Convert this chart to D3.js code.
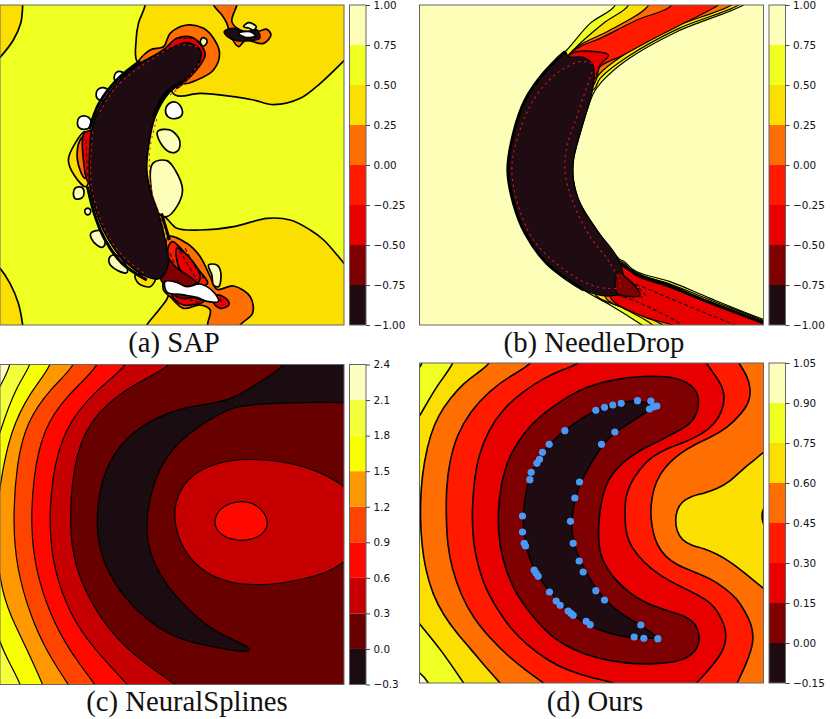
<!DOCTYPE html>
<html>
<head>
<meta charset="utf-8">
<script src="https://cdn.jsdelivr.net/npm/d3@7/dist/d3.min.js"></script>
<style>
  html, body { margin: 0; padding: 0; background: #fff; }
  svg { display: block; }
  .cbar text { font-family: "DejaVu Sans", sans-serif; font-size: 10.4px; fill: #111; }
  .caption { font-family: "Liberation Serif", serif; font-size: 28.7px; fill: #111; text-anchor: middle; }
</style>
</head>
<body>
<svg id="chart" width="830" height="719"></svg>
<script>
// colour bands, bottom to top of each colour bar
var sapTicks = [-1, -0.75, -0.5, -0.25, 0, 0.25, 0.5, 0.75, 1]
var sapColors = ['#1e0c12', '#7f0000', '#e80000', '#ff1a00', '#ff6e00', '#fbdf00', '#f0ff22', '#fdfeb8']
var needleTicks = sapTicks
var needleColors = sapColors
var splineTicks = [-0.3, 0, 0.3, 0.6, 0.9, 1.2, 1.5, 1.8, 2.1, 2.4]
var splineColors = ['#1a0c10', '#680000', '#c60000', '#ff0800', '#ff4400', '#ff9800', '#f8ff00', '#f4ff3c', '#fdffc0']
var oursTicks = [-0.15, 0, 0.15, 0.3, 0.45, 0.6, 0.75, 0.9, 1.05]
var oursColors = ['#1e0c12', '#7f0000', '#e80000', '#ff1a00', '#ff6e00', '#fbdf00', '#f0ff22', '#fdfeb8']

// contour rings: [band value, ring of [x, y]] painted in order
var sapContours = [
  [0.3, [[-40,-40],[68,-40],[68,15],[62,70],[40,120],[0,172],[-40,210]]],
  [0.3, [[-40,770],[0,805],[30,850],[55,910],[68,975],[72,1020],[-40,1020]]],
  [0.3, [[435,-30],[435,15],[415,70],[408,120],[412,185],[470,190],[525,285],[600,280],[700,290],[760,300],[820,314],[900,295],[960,250],[1031,182],[1080,130],[1080,-30]]],
  [0.3, [[490,650],[530,685],[600,690],[700,680],[800,655],[870,660],[930,690],[970,720],[1031,790],[1080,850],[1080,1020],[420,1020],[440,975],[480,925],[505,885],[490,800]]],
  [0.3, [[255,395],[225,430],[205,480],[222,525],[258,560],[270,480]]],
  [0.3, [[405,825],[415,850],[450,860],[465,835]]],
  [0.1, [[240,420],[232,480],[255,535],[275,480],[268,400]]],
  [0.1, [[415,190],[450,150],[490,140],[510,100],[560,75],[610,85],[640,115],[658,160],[640,210],[590,240],[550,250],[520,210]]],
  [0.1, [[635,-20],[640,15],[665,45],[680,70],[690,105],[715,140],[735,122],[790,130],[812,105],[800,88],[770,95],[720,90],[695,65],[710,15],[715,-20]]],
  [0.1, [[505,710],[560,730],[600,770],[630,830],[650,868],[700,858],[750,890],[757,940],[720,975],[700,1020],[630,1020],[622,975],[630,930],[600,915],[550,925],[510,890],[490,870],[490,830]]],
  [-0.4, [[252,400],[280,395],[275,540],[264,545],[250,480]]],
  [-0.4, [[430,190],[495,145],[530,115],[575,112],[606,140],[615,165],[600,195],[565,235],[530,265],[560,190],[530,150]]],
  [-0.1, [[515,725],[560,765],[600,815],[622,850],[560,860],[500,820]]],
  [-0.4, [[530,745],[570,775],[600,830],[590,850],[540,810]]],
  [-0.6, [[498,770],[525,800],[590,850],[540,860],[485,845]]],
  [-0.4, [[515,880],[560,888],[610,905],[590,912],[550,915],[525,900]]],
  [-0.6, [[520,875],[560,878],[590,888],[560,895],[530,890]]],
  [-0.4, [[650,885],[680,898],[686,915],[660,925],[640,908]]],
  [0.9, [[472,395],[510,390],[538,420],[535,450],[515,458],[485,435]]],
  [0.9, [[458,490],[500,482],[525,510],[547,570],[530,620],[500,650],[475,640],[455,580]]],
  [0.9, [[272,700],[300,692],[315,730],[305,742],[280,725]]],
  [0.9, [[330,770],[350,765],[380,800],[380,818],[350,810],[328,790]]],
  [0.9, [[625,795],[650,795],[662,820],[655,860],[640,855],[635,825]]],
  [0.9, [[220,578],[226,564],[245,562],[252,578],[245,594],[226,596]]],
  [0.9, [[254,634],[258,626],[268,626],[272,634],[268,643],[258,643]]],
  [0.9, [[600,125],[608,113],[620,120],[618,132],[608,138]]],
  [1.5, [[232,368],[238,352],[256,348],[272,360],[270,380],[252,388],[236,382]]],
  [1.5, [[288,282],[294,268],[310,263],[326,274],[324,292],[308,302],[292,296]]],
  [1.5, [[342,232],[348,218],[362,215],[375,226],[372,242],[358,250],[346,244]]],
  [1.5, [[496,330],[505,312],[525,306],[543,322],[545,345],[525,356],[503,350]]],
  [-0.9, [[672,95],[700,85],[730,97],[770,90],[778,115],[740,122],[710,122],[680,108]]],
  [1.5, [[715,100],[750,95],[765,108],[735,112]]],
  [0.9, [[730,80],[745,68],[768,80],[760,90],[745,84]]],
  [1.5, [[495,844],[530,847],[560,860],[600,852],[640,876],[655,904],[620,904],[590,892],[545,884],[500,876]]],
  [-0.9, [[600,150],[560,128],[500,150],[420,190],[350,250],[300,320],[275,390],[268,470],[270,560],[290,640],[320,710],[370,780],[440,830],[480,835],[505,790],[495,720],[475,640],[450,570],[440,510],[445,440],[465,350],[505,280],[560,235],[600,180]]]
]
var needleContours = [
  [0.6, [[605,-30],[615,15],[540,70],[470,150],[400,220],[345,300],[310,400],[293,510],[310,610],[345,700],[410,790],[520,870],[600,915],[700,978],[760,1020],[1100,1020],[1100,970],[1060,958],[900,895],[780,845],[680,815],[620,770],[560,690],[510,610],[490,540],[490,480],[510,400],[550,280],[575,245],[650,180],[800,95],[1000,15],[1060,-30]]],
  [0.3, [[655,-30],[655,15],[580,70],[490,150],[470,175],[548,270],[570,235],[650,172],[800,88],[985,15],[1040,-30]]],
  [0.1, [[715,-30],[715,15],[600,90],[510,135],[480,165],[548,255],[565,225],[640,165],[790,82],[965,15],[1020,-30]]],
  [-0.1, [[785,-30],[785,15],[680,60],[570,115],[510,140],[480,165],[548,240],[570,200],[640,165],[700,132],[800,80],[925,15],[980,-30]]],
  [0.3, [[555,880],[640,925],[730,978],[750,1020],[1100,1020],[1100,985],[1060,963],[900,900],[780,852],[680,820],[630,780]]],
  [0.1, [[585,890],[670,935],[760,978],[780,1020],[1100,1020],[1100,990],[1060,968],[900,905],[780,858],[680,825],[630,785]]],
  [-0.4, [[600,890],[700,950],[790,978],[830,1020],[1100,1020],[1100,995],[1060,972],[900,910],[780,862],[680,828],[630,790]]],
  [-0.4, [[475,170],[500,155],[595,165],[570,195],[555,235],[520,200]]],
  [-0.9, [[465,155],[400,220],[345,300],[310,400],[293,510],[310,610],[345,700],[410,790],[520,870],[600,888],[640,875],[640,825],[620,770],[560,690],[510,610],[490,540],[490,480],[510,400],[545,280],[552,235],[548,195],[520,172],[475,170]]],
  [-0.6, [[625,815],[640,825],[690,885],[620,880]]]
]
var splineContours = [
  [1.9, [[35,-40],[35,28],[0,95],[-40,160],[-40,1040],[1100,1040],[1100,-40]]],
  [1.6, [[97,-40],[97,28],[50,90],[0,225],[-50,400],[-50,700],[0,870],[30,925],[62,988],[80,1040],[1100,1040],[1100,-40]]],
  [1.3, [[160,-40],[160,28],[90,110],[30,230],[0,385],[-15,520],[0,690],[30,780],[80,880],[128,988],[150,1040],[1100,1040],[1100,-40]]],
  [1.0, [[232,-40],[232,28],[150,100],[80,200],[50,320],[38,500],[50,640],[90,780],[140,890],[205,988],[235,1040],[1100,1040],[1100,-40]]],
  [0.7, [[305,-40],[305,28],[200,120],[130,220],[100,360],[92,510],[105,640],[150,780],[210,890],[285,988],[320,1040],[1100,1040],[1100,-40]]],
  [0.4, [[392,-40],[392,28],[290,100],[190,220],[155,370],[147,510],[160,640],[210,780],[280,880],[382,988],[430,1040],[1100,1040],[1100,-40]]],
  [0.1, [[530,-40],[530,28],[400,85],[290,170],[225,280],[205,510],[225,640],[280,760],[370,880],[525,988],[600,1040],[1100,1040],[1100,-40]]],
  [-0.1, [[860,-10],[860,28],[780,80],[705,128],[640,145],[560,155],[480,180],[380,240],[310,340],[283,500],[305,620],[370,730],[470,820],[560,860],[640,875],[720,890],[750,888],[750,878],[690,850],[630,820],[560,760],[490,680],[445,590],[437,500],[455,390],[510,280],[600,210],[660,175],[710,152],[800,145],[950,140],[1031,143],[1100,145],[1100,-10]]],
  [0.4, [[1031,390],[950,345],[850,318],[750,310],[650,320],[570,360],[530,420],[520,480],[535,560],[590,640],[680,685],[790,692],[900,675],[990,650],[1031,620],[1100,570],[1100,450]]],
  [0.7, [[640,495],[660,455],[715,435],[770,445],[805,490],[800,530],[750,558],[690,555],[650,530]]]
]
var oursContours = [
  [0.8, [[38,-20],[38,24],[28,40],[-20,80],[-20,920],[28,950],[58,984],[80,1040],[1150,1040],[1150,-20]]],
  [0.7, [[135,-20],[135,24],[80,90],[28,185],[-30,280],[-30,730],[28,808],[90,880],[160,984],[200,1040],[1150,1040],[1150,-20]]],
  [0.5, [[245,-20],[245,24],[200,55],[160,85],[120,130],[85,180],[60,240],[42,320],[32,400],[30,490],[35,570],[45,640],[68,720],[100,780],[140,835],[180,880],[225,935],[270,984],[320,1040],[1150,1040],[1150,-20]]],
  [0.7, [[1060,290],[1030,318],[1000,340],[960,380],[920,402],[880,415],[840,425],[815,440],[800,465],[795,495],[800,530],[815,555],[845,572],[880,580],[920,597],[960,620],[1005,655],[1060,700],[1110,740],[1110,260]]],
  [0.35, [[375,-30],[375,24],[300,62],[235,110],[180,170],[140,240],[118,320],[108,400],[108,490],[112,570],[125,640],[152,720],[190,790],[240,850],[290,900],[345,945],[400,984],[480,1040],[960,1040],[980,984],[1005,935],[1025,880],[1030,850],[1025,810],[1005,770],[980,730],[945,700],[900,670],[850,650],[800,630],[765,605],[740,570],[728,530],[722,490],[722,450],[730,400],[750,355],[780,320],[810,295],[850,270],[900,248],[950,220],[995,175],[1018,140],[1022,100],[1010,60],[985,24],[960,-30]]],
  [0.2, [[520,-30],[520,24],[460,42],[400,70],[340,108],[280,160],[235,225],[205,300],[190,390],[185,490],[190,570],[205,640],[228,705],[260,760],[300,820],[350,870],[410,915],[480,950],[550,970],[620,984],[700,1020],[820,1020],[860,984],[905,935],[945,880],[950,830],[930,780],[900,740],[845,710],[780,680],[725,645],[680,600],[655,560],[645,520],[645,470],[645,430],[660,385],[690,340],[725,305],[770,280],[825,262],[880,235],[915,205],[935,170],[945,130],[935,85],[885,24],[860,-30]]],
  [0.1, [[870,140],[855,95],[800,65],[700,62],[600,75],[530,95],[480,120],[420,160],[360,210],[320,265],[290,320],[270,400],[262,490],[268,570],[285,640],[310,700],[340,750],[385,805],[430,850],[490,885],[560,910],[640,925],[720,928],[790,922],[830,910],[860,885],[870,850],[860,810],[830,785],[780,770],[740,757],[700,740],[660,715],[620,680],[590,640],[570,600],[565,555],[565,510],[570,460],[580,410],[597,370],[620,340],[660,305],[700,280],[740,262],[780,240],[830,215],[855,190]]],
  [-0.1, [[735,150],[735,150],[680,135],[630,142],[555,163],[465,223],[395,288],[353,370],[336,480],[343,570],[373,650],[418,712],[488,782],[558,827],[670,852],[745,848],[745,848],[745,848],[692,810],[620,770],[560,710],[510,620],[488,560],[482,500],[495,430],[510,380],[575,268],[615,230],[720,165]]],
  [0.8, [[1065,450],[1052,475],[1062,525],[1080,490]]]
]

// dashed negative contours
var sapDashes = [
  [[530,735],[560,790],[590,840]], [[555,745],[585,800],[610,835]], [[510,760],[530,810]],
  [[530,890],[570,900],[600,908]], [[258,420],[262,530]], [[270,410],[268,520]],
  [[660,895],[668,915]], [[530,115],[585,115]]
]
var sapSpecks = [
  [[590,140],[530,135],[460,175],[400,215],[345,265],[300,335]],
  [[278,395],[272,480],[274,560],[295,640],[325,710],[375,775],[440,825]],
  [[500,720],[480,650],[455,575],[448,510],[450,440],[472,350]],
  [[510,285],[555,245],[600,185]]
]
var sapDense = [
  [[420,183],[350,240],[296,312],[268,388]],
  [[262,560],[284,645],[314,718],[366,790],[440,840]],
  [[484,640],[508,720]],
  [[458,350],[500,275],[556,240]]
]
var needleDashes = [
  [[660,845],[720,870],[900,945],[1000,985]],
  [[620,885],[680,905],[800,965],[825,985]],
  [[500,155],[595,165],[570,195],[558,225]],
  [[625,815],[705,888],[600,878]]
]
var needleSpecks = [
  [[545,190],[510,185],[440,220],[370,300],[320,420],[305,510],[325,620],[370,720],[450,800],[530,850],[590,865],[630,860],[600,790],[540,710],[490,610],[465,520],[470,440],[500,350],[530,260],[548,210]]
]
var needleDense = [
  [[630,790],[680,822],[780,858],[900,908],[1060,968]],
  [[465,155],[400,220],[345,300],[310,400],[293,510],[310,610],[345,700],[410,790],[520,870]]
]

// input samples of panel (d)
var oursSamples = [
  [557,166],[583,157],[608,150],[633,145],[682,137],[722,138],[718,162],[730,155],[740,153],
  [464,227],[614,231],[574,268],[417,268],[397,292],[388,313],[380,325],[363,352],[359,374],
  [508,381],[494,429],[337,483],[481,499],[337,531],[342,565],[346,573],[489,565],[507,618],
  [519,651],[372,645],[378,655],[384,664],[418,711],[557,707],[583,735],[438,738],[450,751],
  [474,768],[482,775],[489,781],[528,799],[540,809],[692,810],[672,846],[701,850],[743,851]
]

var svg = d3.select('#chart')
var jaggedRing = d3.line().curve(d3.curveCatmullRomClosed.alpha(0.5))
var smoothRing = d3.line().curve(d3.curveBasisClosed)
var openPath = d3.line().curve(d3.curveCatmullRom.alpha(0.5))

function fmtTick(decimals) {
  return function (d) { return d3.format('.' + decimals + 'f')(d).replace('-', '\u2212') }
}

function drawPanel(p, idx) {
  var x = d3.scaleLinear().domain(p.xDomain).range([p.left, p.left + p.width])
  var y = d3.scaleLinear().domain(p.yDomain).range([p.top, p.top + p.height])
  var band = d3.scaleThreshold().domain(p.ticks.slice(1)).range(p.colors.concat(['#ffffff']))
  var toPx = function (pt) { return [x(pt[0]), y(pt[1])] }

  // basis curves cut corners, so points well off the panel get pinned by repeating them
  var pin = function (ring) {
    if (p.ring !== smoothRing) return ring
    return ring.reduce(function (out, pt) {
      var far = pt[0] < p.xDomain[0] - 18 || pt[0] > p.xDomain[1] + 18 ||
                pt[1] < p.yDomain[0] - 18 || pt[1] > p.yDomain[1] + 18
      return far ? out.concat([pt, pt, pt]) : out.concat([pt])
    }, [])
  }

  var clipId = 'clip' + idx
  svg.append('clipPath').attr('id', clipId).append('rect')
    .attr('x', p.left).attr('y', p.top).attr('width', p.width).attr('height', p.height)

  var g = svg.append('g').attr('clip-path', 'url(#' + clipId + ')')
  g.append('rect')
    .attr('x', p.left).attr('y', p.top).attr('width', p.width).attr('height', p.height)
    .attr('fill', band(p.base))

  g.selectAll('path.ring').data(p.contours).join('path')
    .attr('class', 'ring')
    .attr('d', function (c) { return p.ring(pin(c[1]).map(toPx)) })
    .attr('fill', function (c) { return band(c[0]) })
    .attr('stroke', '#000')
    .attr('stroke-width', p.lineWidth)
    .attr('stroke-linejoin', 'round')

  g.selectAll('path.dense').data(p.dense || []).join('path')
    .attr('class', 'dense')
    .attr('d', function (c) { return openPath(c.map(toPx)) })
    .attr('fill', 'none').attr('stroke', '#000').attr('stroke-width', 3)
  g.selectAll('path.speck').data(p.specks || []).join('path')
    .attr('class', 'speck')
    .attr('d', function (c) { return openPath(c.map(toPx)) })
    .attr('fill', 'none').attr('stroke', '#d8181c').attr('stroke-width', 1.1)
    .attr('stroke-dasharray', '2.2,3.6')
  g.selectAll('path.dash').data(p.dashes || []).join('path')
    .attr('class', 'dash')
    .attr('d', function (c) { return openPath(c.map(toPx)) })
    .attr('fill', 'none').attr('stroke', '#111').attr('stroke-width', 1.1)
    .attr('stroke-dasharray', '4,2.5')
  g.selectAll('circle').data(p.samples || []).join('circle')
    .attr('cx', function (d) { return x(d[0]) })
    .attr('cy', function (d) { return y(d[1]) })
    .attr('r', 3.6)
    .attr('fill', '#4a98f6')

  svg.append('rect')
    .attr('x', p.left).attr('y', p.top).attr('width', p.width).attr('height', p.height)
    .attr('fill', 'none').attr('stroke', '#666').attr('stroke-width', 1)

  // colour bar
  var cbLeft = p.left + p.width + 5.5
  var cbWidth = 16.5
  var cy = d3.scaleLinear().domain([p.ticks[0], p.ticks[p.ticks.length - 1]]).range([p.top + p.height, p.top])
  var cb = svg.append('g').attr('class', 'cbar')
  cb.selectAll('rect').data(p.colors).join('rect')
    .attr('x', cbLeft).attr('width', cbWidth)
    .attr('y', function (d, i) { return cy(p.ticks[i + 1]) })
    .attr('height', function (d, i) { return cy(p.ticks[i]) - cy(p.ticks[i + 1]) })
    .attr('fill', function (d) { return d })
  cb.append('rect')
    .attr('x', cbLeft).attr('y', p.top).attr('width', cbWidth).attr('height', p.height)
    .attr('fill', 'none').attr('stroke', '#666')
  var axis = d3.axisRight(cy).tickValues(p.ticks).tickFormat(fmtTick(p.decimals)).tickSize(4).tickPadding(3.5)
  var ag = cb.append('g').attr('transform', 'translate(' + (cbLeft + cbWidth) + ',0)').call(axis)
  ag.select('.domain').remove()
  ag.selectAll('line').attr('stroke', '#444')

  svg.append('text').attr('class', 'caption')
    .attr('x', p.captionX).attr('y', p.captionY).text(p.caption)
}

var panels = [
  { left: 0, top: 5, width: 344, height: 320, xDomain: [0, 1031], yDomain: [15, 975],
    ticks: sapTicks, colors: sapColors, decimals: 2, base: 0.6, contours: sapContours,
    dashes: sapDashes, specks: sapSpecks, dense: sapDense, lineWidth: 1.7, ring: jaggedRing,
    caption: '(a) SAP', captionX: 174, captionY: 352 },
  { left: 419.5, top: 5, width: 344, height: 320, xDomain: [28, 1060], yDomain: [15, 975],
    ticks: needleTicks, colors: needleColors, decimals: 2, base: 0.9, contours: needleContours,
    dashes: needleDashes, specks: needleSpecks, dense: needleDense, lineWidth: 1.2, ring: jaggedRing,
    caption: '(b) NeedleDrop', captionX: 594, captionY: 352 },
  { left: 0, top: 364.5, width: 344, height: 320, xDomain: [0, 1031], yDomain: [28, 988],
    ticks: splineTicks, colors: splineColors, decimals: 1, base: 2.2, contours: splineContours,
    lineWidth: 1.2, ring: smoothRing,
    caption: '(c) NeuralSplines', captionX: 187, captionY: 711 },
  { left: 419.5, top: 363, width: 344, height: 320, xDomain: [28, 1060], yDomain: [24, 984],
    ticks: oursTicks, colors: oursColors, decimals: 2, base: 0.95, contours: oursContours,
    samples: oursSamples, lineWidth: 1.6, ring: smoothRing,
    caption: '(d) Ours', captionX: 595, captionY: 711 }
]

panels.forEach(drawPanel)
</script>
</body>
</html>
